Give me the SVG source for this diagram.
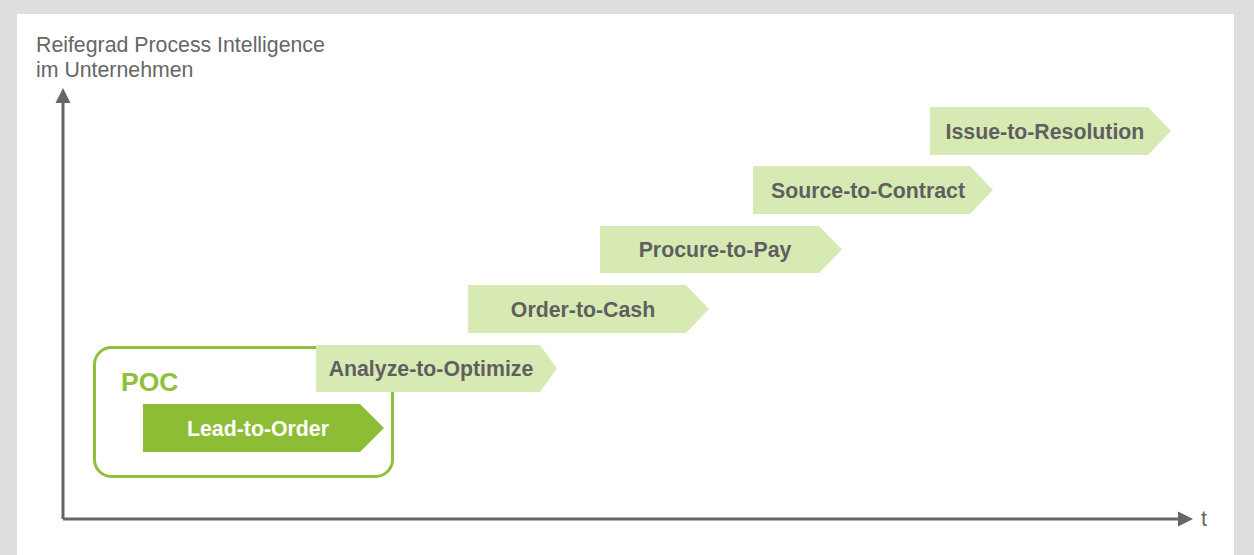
<svg xmlns="http://www.w3.org/2000/svg" width="1254" height="555" viewBox="0 0 1254 555">
<style>
.lbl{font-family:"Liberation Sans",Arial,sans-serif;font-size:21.3px;font-weight:bold;fill:#5f5f5f;text-anchor:middle}
.lt{fill:#d8eab3}
.axis{stroke:#666;stroke-width:3;fill:none}
.ax{font-family:"Liberation Sans",Arial,sans-serif;font-size:21.3px;fill:#666}
</style>
<rect width="1254" height="555" fill="#dedede"/>
<rect x="17" y="14" width="1217" height="541" fill="#fff"/>
<g id="axes">
<text class="ax" x="36" y="52">Reifegrad Process Intelligence</text>
<text class="ax" x="36" y="77">im Unternehmen</text>
<path class="axis" d="M63 519V100M63 519H1180"/>
<path d="M63 88L70.5 103H55.5Z" fill="#666"/>
<path d="M1193 519L1178 511.5V526.5Z" fill="#666"/>
<text class="ax" x="1201" y="526">t</text>
</g>
<g id="poc">
<rect x="94.5" y="347.5" width="298" height="129" rx="17" fill="none" stroke="#8fc03a" stroke-width="3"/>
<text x="121" y="391" font-family="Liberation Sans,Arial,sans-serif" font-size="26.5" font-weight="bold" fill="#8fc03a">POC</text>
</g>
<g id="lead">
<path d="M143 404H360L384 428L360 452H143Z" fill="#8dbd35"/>
<text class="lbl" x="258" y="436" style="fill:#fff">Lead-to-Order</text>
</g>
<g id="analyze">
<path class="lt" d="M316 345H540L557 368.5L540 392H316Z"/>
<text class="lbl" x="431" y="376">Analyze-to-Optimize</text>
</g>
<g id="order">
<path class="lt" d="M468 285H686L709 309L686 333H468Z"/>
<text class="lbl" x="583" y="317">Order-to-Cash</text>
</g>
<g id="procure">
<path class="lt" d="M600 226H819L842 249.5L819 273H600Z"/>
<text class="lbl" x="715" y="257">Procure-to-Pay</text>
</g>
<g id="source">
<path class="lt" d="M753 166H970L993 190L970 214H753Z"/>
<text class="lbl" x="868" y="198">Source-to-Contract</text>
</g>
<g id="issue">
<path class="lt" d="M930 107H1148L1171 131L1148 155H930Z"/>
<text class="lbl" x="1045" y="139">Issue-to-Resolution</text>
</g>
</svg>
